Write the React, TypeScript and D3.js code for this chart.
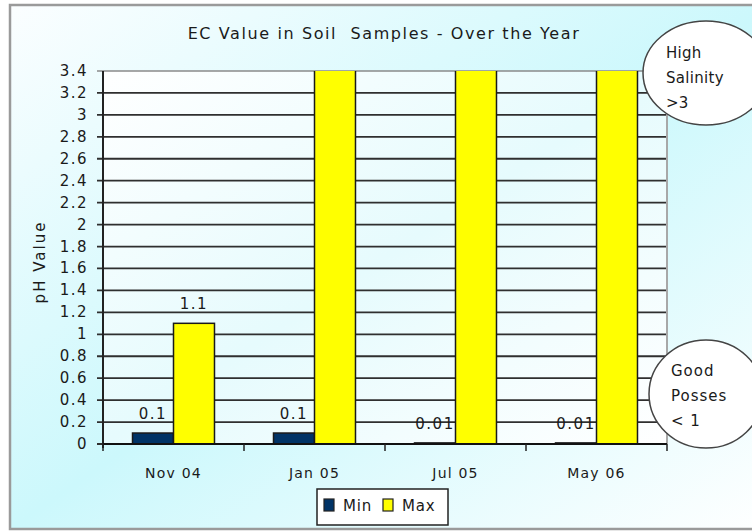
import React from "react";
import * as d3 from "d3";

const categories = ["Nov 04", "Jan 05", "Jul 05", "May 06"];
const seriesNames = ["Min", "Max"];
const minValues = [0.1, 0.1, 0.01, 0.01];
const maxValues = [1.1, 4.0, 4.0, 4.0];
const yTicks = [0, 0.2, 0.4, 0.6, 0.8, 1, 1.2, 1.4, 1.6, 1.8, 2, 2.2, 2.4, 2.6, 2.8, 3, 3.2, 3.4];
const title = "EC Value in Soil  Samples - Over the Year";
const yTitle = "pH Value";
const noteHigh = ["High", "Salinity", ">3"];
const noteGood = ["Good", "Posses", "< 1"];

const W = 752, H = 531;
const plot = { left: 103, right: 667, top: 71, bottom: 444 };
const colors: Record<string, string> = { Min: "#003366", Max: "#ffff00" };
const FONT = "'DejaVu Sans', Verdana, sans-serif";

export default function App() {
  const x = d3.scaleBand<string>().domain(categories).range([plot.left, plot.right]).paddingInner(0).paddingOuter(0);
  const xs = d3.scaleBand<string>().domain(seriesNames).range([0, x.bandwidth()]).paddingInner(0).paddingOuter(0.72);
  const y = d3.scaleLinear().domain([0, 3.4]).range([plot.bottom, plot.top]);
  const fmt = (v: number) => String(+v.toFixed(2));
  const data = categories.map((c, i) => ({ c, vals: [{ s: "Min", v: minValues[i] }, { s: "Max", v: maxValues[i] }] }));

  return (
    <svg width={W} height={H} style={{ display: "block", position: "absolute", left: 0, top: 0 }}>
      <defs>
        <linearGradient id="bg" x1="0" y1="0" x2="1" y2="1">
          <stop offset="0" stopColor="#fbfeff" />
          <stop offset="0.5" stopColor="#ccf8fc" />
          <stop offset="1" stopColor="#ffffff" />
        </linearGradient>
        <linearGradient id="pbg" x1="0" y1="0" x2="1" y2="1">
          <stop offset="0" stopColor="#ffffff" />
          <stop offset="0.5" stopColor="#e6fbfd" />
          <stop offset="1" stopColor="#ffffff" />
        </linearGradient>
        <clipPath id="pclip">
          <rect x={plot.left} y={plot.top} width={plot.right - plot.left} height={plot.bottom - plot.top} />
        </clipPath>
      </defs>
      <rect x={0} y={0} width={W} height={H} fill="#ffffff" />
      <rect x={10} y={5} width={W + 10} height={524} fill="url(#bg)" stroke="#9a9a9a" strokeWidth={2.5} />
      <text x={384} y={39} textAnchor="middle" fontFamily={FONT} fontSize={16} letterSpacing={1.6} fill="#1a1a1a" style={{ whiteSpace: "pre" }}>{title}</text>

      <rect x={plot.left} y={plot.top} width={plot.right - plot.left} height={plot.bottom - plot.top} fill="url(#pbg)" />
      {yTicks.map((t) => (
        <line key={t} x1={plot.left - 6} x2={plot.right} y1={y(t)} y2={y(t)} stroke={t === 3.4 ? "#8a8a8a" : "#2f2f2f"} strokeWidth={t === 3.4 ? 1.5 : 1.8} />
      ))}
      <line x1={plot.right} x2={plot.right} y1={plot.top} y2={plot.bottom} stroke="#a8a8a8" strokeWidth={2} />
      <g clipPath="url(#pclip)">
        {data.map((d) => d.vals.map((b) => (
          <rect key={d.c + b.s} x={(x(d.c) as number) + (xs(b.s) as number)} y={y(b.v)} width={xs.bandwidth()} height={Math.max(0.5, plot.bottom - y(b.v))}
            fill={colors[b.s]} stroke="#1a1a1a" strokeWidth={1.5} />
        )))}
      </g>
      {data.map((d) => d.vals.filter((b) => b.v <= 3.4).map((b) => (
        <text key={"l" + d.c + b.s} x={(x(d.c) as number) + (xs(b.s) as number) + xs.bandwidth() / 2} y={y(b.v) - 14}
          textAnchor="middle" fontFamily={FONT} fontSize={15} letterSpacing={1.5} fill="#1a1a1a">{fmt(b.v)}</text>
      )))}
      <line x1={plot.left} x2={plot.left} y1={plot.top} y2={plot.bottom + 4} stroke="#222" strokeWidth={2} />
      <line x1={plot.left} x2={plot.right} y1={plot.bottom} y2={plot.bottom} stroke="#111" strokeWidth={2} />
      {[...categories.map((c) => x(c) as number), plot.right].map((v, i) => (
        <line key={"xt" + i} x1={v} x2={v} y1={plot.bottom} y2={plot.bottom + 7} stroke="#222" strokeWidth={1.5} />
      ))}
      {yTicks.map((t) => (
        <text key={"yl" + t} x={88} y={y(t) + 5} textAnchor="end" fontFamily={FONT} fontSize={15} letterSpacing={1.5} fill="#1a1a1a">{fmt(t)}</text>
      ))}
      {categories.map((c) => (
        <text key={"xl" + c} x={(x(c) as number) + x.bandwidth() / 2} y={478} textAnchor="middle" fontFamily={FONT} fontSize={14} letterSpacing={1.2} fill="#1a1a1a">{c}</text>
      ))}
      <text transform={`translate(45,262) rotate(-90)`} textAnchor="middle" fontFamily={FONT} fontSize={15} letterSpacing={2} fill="#1a1a1a">{yTitle}</text>

      <rect x={317} y={489} width={131} height={36} fill="#ffffff" stroke="#222" strokeWidth={1.5} />
      {seriesNames.map((s, i) => (
        <g key={"lg" + s} transform={`translate(324,499) translate(${i * 59},0)`}>
          <rect x={0} y={0} width={10} height={12} fill={colors[s]} stroke="#222" strokeWidth={1.2} />
          <text x={19} y={12} fontFamily={FONT} fontSize={15} letterSpacing={0.8} fill="#1a1a1a">{s}</text>
        </g>
      ))}

      <ellipse cx={706} cy={73} rx={63} ry={52} fill="#ffffff" stroke="#444" strokeWidth={1.5} />
      {noteHigh.map((t, i) => (
        <text key={"h" + i} x={666} y={58 + i * 25} fontFamily={FONT} fontSize={15} letterSpacing={0.3} fill="#1a1a1a">{t}</text>
      ))}
      <ellipse cx={706} cy={394} rx={57} ry={54} fill="#ffffff" stroke="#444" strokeWidth={1.5} />
      {noteGood.map((t, i) => (
        <text key={"g" + i} x={671} y={376 + i * 25} fontFamily={FONT} fontSize={15} letterSpacing={1} fill="#1a1a1a">{t}</text>
      ))}
    </svg>
  );
}
